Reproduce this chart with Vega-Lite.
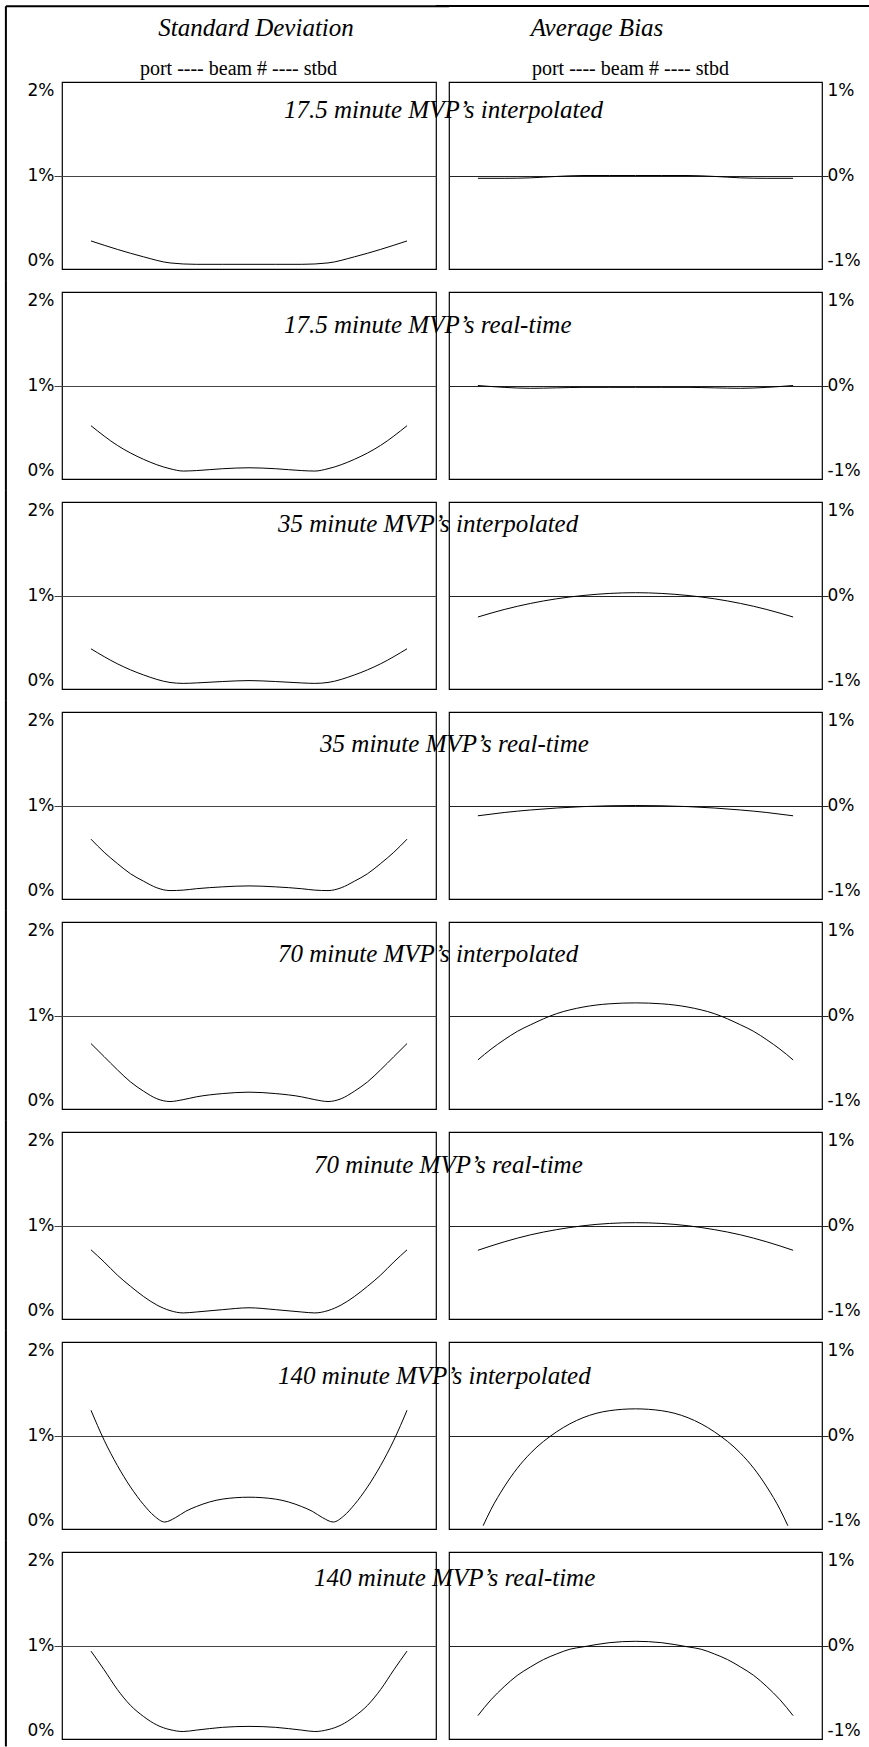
{
"$schema": "https://vega.github.io/schema/vega-lite/v6.json",
"background": "white",
"padding": {"left": 4, "top": 4, "right": 0, "bottom": 0},
"config": {
 "view": {"stroke": "black", "strokeWidth": 1.2},
 "axis": {"labelFont": "DejaVu Sans", "labelFontSize": 17, "labelColor": "black"},
 "line": {"color": "black", "strokeWidth": 1, "interpolate": "monotone"},
 "rule": {"color": "black", "strokeWidth": 2},
 "text": {"font": "Liberation Serif", "fontStyle": "italic", "fontSize": 25, "align": "left", "baseline": "alphabetic", "color": "black"}
},
"datasets": {
 "one": [{}],
 "sd1": [{"b":-60,"v":0.30},{"b":-50,"v":0.21},{"b":-40,"v":0.13},{"b":-30,"v":0.065},{"b":-20,"v":0.05},{"b":-10,"v":0.05},{"b":0,"v":0.05},{"b":10,"v":0.05},{"b":20,"v":0.05},{"b":30,"v":0.065},{"b":40,"v":0.13},{"b":50,"v":0.21},{"b":60,"v":0.30}],
 "bias1": [{"b":-60,"v":-0.03},{"b":-50,"v":-0.03},{"b":-40,"v":-0.025},{"b":-30,"v":-0.01},{"b":-20,"v":0},{"b":-10,"v":0},{"b":0,"v":0},{"b":10,"v":0},{"b":20,"v":0},{"b":30,"v":-0.01},{"b":40,"v":-0.025},{"b":50,"v":-0.03},{"b":60,"v":-0.03}],
 "sd2": [{"b":-60,"v":0.57},{"b":-50,"v":0.36},{"b":-40,"v":0.21},{"b":-30,"v":0.11},{"b":-25,"v":0.085},{"b":-20,"v":0.09},{"b":-10,"v":0.11},{"b":0,"v":0.12},{"b":10,"v":0.11},{"b":20,"v":0.09},{"b":25,"v":0.085},{"b":30,"v":0.11},{"b":40,"v":0.21},{"b":50,"v":0.36},{"b":60,"v":0.57}],
 "bias2": [{"b":-60,"v":0},{"b":-50,"v":-0.02},{"b":-40,"v":-0.03},{"b":-30,"v":-0.025},{"b":-20,"v":-0.02},{"b":-10,"v":-0.02},{"b":0,"v":-0.02},{"b":10,"v":-0.02},{"b":20,"v":-0.02},{"b":30,"v":-0.025},{"b":40,"v":-0.03},{"b":50,"v":-0.02},{"b":60,"v":0}],
 "sd3": [{"b":-60,"v":0.43},{"b":-50,"v":0.27},{"b":-40,"v":0.15},{"b":-30,"v":0.07},{"b":-25,"v":0.06},{"b":-20,"v":0.065},{"b":-10,"v":0.08},{"b":0,"v":0.09},{"b":10,"v":0.08},{"b":20,"v":0.065},{"b":25,"v":0.06},{"b":30,"v":0.07},{"b":40,"v":0.15},{"b":50,"v":0.27},{"b":60,"v":0.43}],
 "bias3": [{"b":-60,"v":-0.23},{"b":-50,"v":-0.15},{"b":-40,"v":-0.085},{"b":-30,"v":-0.035},{"b":-20,"v":0},{"b":-10,"v":0.022},{"b":0,"v":0.03},{"b":10,"v":0.022},{"b":20,"v":0},{"b":30,"v":-0.035},{"b":40,"v":-0.085},{"b":50,"v":-0.15},{"b":60,"v":-0.23}],
 "sd4": [{"b":-60,"v":0.64},{"b":-55,"v":0.50},{"b":-50,"v":0.38},{"b":-45,"v":0.27},{"b":-40,"v":0.19},{"b":-35,"v":0.12},{"b":-30,"v":0.09},{"b":-25,"v":0.095},{"b":-20,"v":0.11},{"b":-10,"v":0.13},{"b":0,"v":0.14},{"b":10,"v":0.13},{"b":20,"v":0.11},{"b":25,"v":0.095},{"b":30,"v":0.09},{"b":35,"v":0.12},{"b":40,"v":0.19},{"b":45,"v":0.27},{"b":50,"v":0.38},{"b":55,"v":0.50},{"b":60,"v":0.64}],
 "bias4": [{"b":-60,"v":-0.11},{"b":-50,"v":-0.075},{"b":-40,"v":-0.048},{"b":-30,"v":-0.027},{"b":-20,"v":-0.012},{"b":-10,"v":-0.003},{"b":0,"v":0},{"b":10,"v":-0.003},{"b":20,"v":-0.012},{"b":30,"v":-0.027},{"b":40,"v":-0.048},{"b":50,"v":-0.075},{"b":60,"v":-0.11}],
 "sd5": [{"b":-60,"v":0.70},{"b":-55,"v":0.56},{"b":-50,"v":0.42},{"b":-45,"v":0.29},{"b":-40,"v":0.19},{"b":-35,"v":0.11},{"b":-30,"v":0.08},{"b":-25,"v":0.10},{"b":-20,"v":0.13},{"b":-10,"v":0.165},{"b":0,"v":0.18},{"b":10,"v":0.165},{"b":20,"v":0.13},{"b":25,"v":0.10},{"b":30,"v":0.08},{"b":35,"v":0.11},{"b":40,"v":0.19},{"b":45,"v":0.29},{"b":50,"v":0.42},{"b":55,"v":0.56},{"b":60,"v":0.70}],
 "bias5": [{"b":-60,"v":-0.475},{"b":-55,"v":-0.36},{"b":-50,"v":-0.26},{"b":-45,"v":-0.17},{"b":-40,"v":-0.10},{"b":-30,"v":0.02},{"b":-20,"v":0.09},{"b":-10,"v":0.125},{"b":0,"v":0.135},{"b":10,"v":0.125},{"b":20,"v":0.09},{"b":30,"v":0.02},{"b":40,"v":-0.10},{"b":45,"v":-0.17},{"b":50,"v":-0.26},{"b":55,"v":-0.36},{"b":60,"v":-0.475}],
 "sd6": [{"b":-60,"v":0.74},{"b":-55,"v":0.61},{"b":-50,"v":0.47},{"b":-45,"v":0.35},{"b":-40,"v":0.24},{"b":-35,"v":0.15},{"b":-30,"v":0.09},{"b":-25,"v":0.065},{"b":-20,"v":0.075},{"b":-10,"v":0.10},{"b":0,"v":0.12},{"b":10,"v":0.10},{"b":20,"v":0.075},{"b":25,"v":0.065},{"b":30,"v":0.09},{"b":35,"v":0.15},{"b":40,"v":0.24},{"b":45,"v":0.35},{"b":50,"v":0.47},{"b":55,"v":0.61},{"b":60,"v":0.74}],
 "bias6": [{"b":-60,"v":-0.265},{"b":-50,"v":-0.175},{"b":-40,"v":-0.10},{"b":-30,"v":-0.044},{"b":-20,"v":-0.003},{"b":-10,"v":0.022},{"b":0,"v":0.03},{"b":10,"v":0.022},{"b":20,"v":-0.003},{"b":30,"v":-0.044},{"b":40,"v":-0.10},{"b":50,"v":-0.175},{"b":60,"v":-0.265}],
 "sd7": [{"b":-60,"v":1.27},{"b":-55,"v":0.95},{"b":-50,"v":0.68},{"b":-45,"v":0.45},{"b":-40,"v":0.26},{"b":-36,"v":0.14},{"b":-32,"v":0.075},{"b":-28,"v":0.12},{"b":-24,"v":0.19},{"b":-20,"v":0.24},{"b":-10,"v":0.32},{"b":0,"v":0.34},{"b":10,"v":0.32},{"b":20,"v":0.24},{"b":24,"v":0.19},{"b":28,"v":0.12},{"b":32,"v":0.075},{"b":36,"v":0.14},{"b":40,"v":0.26},{"b":45,"v":0.45},{"b":50,"v":0.68},{"b":55,"v":0.95},{"b":60,"v":1.27}],
 "bias7": [{"b":-58,"v":-0.965},{"b":-55,"v":-0.79},{"b":-50,"v":-0.55},{"b":-45,"v":-0.35},{"b":-40,"v":-0.19},{"b":-30,"v":0.04},{"b":-20,"v":0.19},{"b":-10,"v":0.265},{"b":0,"v":0.285},{"b":10,"v":0.265},{"b":20,"v":0.19},{"b":30,"v":0.04},{"b":40,"v":-0.19},{"b":45,"v":-0.35},{"b":50,"v":-0.55},{"b":55,"v":-0.79},{"b":58,"v":-0.965}],
 "sd8": [{"b":-60,"v":0.94},{"b":-55,"v":0.74},{"b":-50,"v":0.53},{"b":-45,"v":0.36},{"b":-40,"v":0.24},{"b":-35,"v":0.15},{"b":-30,"v":0.10},{"b":-25,"v":0.08},{"b":-20,"v":0.095},{"b":-10,"v":0.125},{"b":0,"v":0.135},{"b":10,"v":0.125},{"b":20,"v":0.095},{"b":25,"v":0.08},{"b":30,"v":0.10},{"b":35,"v":0.15},{"b":40,"v":0.24},{"b":45,"v":0.36},{"b":50,"v":0.53},{"b":55,"v":0.74},{"b":60,"v":0.94}],
 "bias8": [{"b":-60,"v":-0.75},{"b":-55,"v":-0.58},{"b":-50,"v":-0.44},{"b":-45,"v":-0.32},{"b":-40,"v":-0.23},{"b":-35,"v":-0.15},{"b":-30,"v":-0.09},{"b":-25,"v":-0.04},{"b":-20,"v":-0.015},{"b":-10,"v":0.03},{"b":0,"v":0.045},{"b":10,"v":0.03},{"b":20,"v":-0.015},{"b":25,"v":-0.04},{"b":30,"v":-0.09},{"b":35,"v":-0.15},{"b":40,"v":-0.23},{"b":45,"v":-0.32},{"b":50,"v":-0.44},{"b":55,"v":-0.58},{"b":60,"v":-0.75}]
},
"columns": 2,
"spacing": {"row": 23, "column": 13},
"bounds": "flush",
"concat": [
  {"width": 374, "height": 187,
   "resolve": {"axis": {"x": "independent", "y": "independent"}},
   "layer": [
    {"data": {"name": "sd1"}, "mark": "line",
     "encoding": {"x": {"field": "b", "type": "quantitative", "scale": {"domain": [-71, 71], "nice": false}, "axis": {"orient": "top", "title": "port ---- beam # ---- stbd", "labels": false, "ticks": false, "domain": false, "grid": false, "titleFont": "Liberation Serif", "titleFontSize": 20, "titleFontWeight": "normal", "titleColor": "black", "titleBaseline": "alphabetic", "titleX": 176, "titleY": -8}},
      "y": {"field": "v", "type": "quantitative", "scale": {"domain": [0, 2], "nice": false}, "axis": {"values": [0, 1, 2], "title": null, "labelExpr": "datum.value + '%'", "labelFlush": true, "labelPadding": 0, "tickSize": 8, "domain": false, "tickColor": {"condition": {"test": "datum.value === 1", "value": "#444"}, "value": "transparent"}, "grid": true, "gridColor": {"condition": {"test": "datum.value === 1", "value": "#444"}, "value": "transparent"}}}}},
    {"data": {"values": [{"t": "17.5 minute MVP’s interpolated"}]}, "mark": "text",
     "encoding": {"x": {"datum": 13.3, "type": "quantitative", "scale": {"domain": [-71, 71], "nice": false}, "axis": null}, "y": {"datum": 1.615, "type": "quantitative", "scale": {"domain": [0, 2], "nice": false}, "axis": null}, "text": {"field": "t"}}},
    {"data": {"values": [{"t": "Standard Deviation"}]}, "mark": {"type": "text", "align": "center"},
     "encoding": {"x": {"datum": 2.66, "type": "quantitative", "scale": {"domain": [-71, 71], "nice": false}, "axis": null}, "y": {"datum": 2.492, "type": "quantitative", "scale": {"domain": [0, 2], "nice": false}, "axis": null}, "text": {"field": "t"}}},
    {"data": {"name": "one"}, "mark": "rule",
     "encoding": {"x": {"datum": -92.3, "type": "quantitative", "scale": {"domain": [-71, 71], "nice": false}, "axis": null}, "y": {"datum": -0.125, "type": "quantitative", "scale": {"domain": [0, 2], "nice": false}, "axis": null}, "y2": {"datum": 2.81}}},
    {"data": {"name": "one"}, "mark": "rule",
     "encoding": {"x": {"datum": -92.3, "type": "quantitative", "scale": {"domain": [-71, 71], "nice": false}, "axis": null}, "x2": {"datum": 76}, "y": {"datum": 2.81, "type": "quantitative", "scale": {"domain": [0, 2], "nice": false}, "axis": null}}}
   ]},
  {"width": 373, "height": 187,
   "resolve": {"axis": {"x": "independent", "y": "independent"}},
   "layer": [
    {"data": {"name": "bias1"}, "mark": "line",
     "encoding": {"x": {"field": "b", "type": "quantitative", "scale": {"domain": [-71, 71], "nice": false}, "axis": {"orient": "top", "title": "port ---- beam # ---- stbd", "labels": false, "ticks": false, "domain": false, "grid": false, "titleFont": "Liberation Serif", "titleFontSize": 20, "titleFontWeight": "normal", "titleColor": "black", "titleBaseline": "alphabetic", "titleX": 181, "titleY": -8}},
      "y": {"field": "v", "type": "quantitative", "scale": {"domain": [-1, 1], "nice": false}, "axis": {"orient": "right", "values": [-1, 0, 1], "title": null, "labelExpr": "datum.value + '%'", "labelFlush": true, "labelPadding": -1, "tickSize": 6, "domain": false, "tickColor": {"condition": {"test": "datum.value === 0", "value": "#222"}, "value": "transparent"}, "grid": true, "gridColor": {"condition": {"test": "datum.value === 0", "value": "#222"}, "value": "transparent"}}}}},
    {"data": {"values": [{"t": "Average Bias"}]}, "mark": {"type": "text", "align": "center"},
     "encoding": {"x": {"datum": -14.66, "type": "quantitative", "scale": {"domain": [-71, 71], "nice": false}, "axis": null}, "y": {"datum": 1.492, "type": "quantitative", "scale": {"domain": [-1, 1], "nice": false}, "axis": null}, "text": {"field": "t"}}},
    {"data": {"name": "one"}, "mark": "rule",
     "encoding": {"x": {"datum": -76, "type": "quantitative", "scale": {"domain": [-71, 71], "nice": false}, "axis": null}, "x2": {"datum": 89}, "y": {"datum": 1.813, "type": "quantitative", "scale": {"domain": [-1, 1], "nice": false}, "axis": null}}}
   ]},
  {"width": 374, "height": 187,
   "resolve": {"axis": {"x": "independent", "y": "independent"}},
   "layer": [
    {"data": {"name": "sd2"}, "mark": "line",
     "encoding": {"x": {"field": "b", "type": "quantitative", "scale": {"domain": [-71, 71], "nice": false}, "axis": null},
      "y": {"field": "v", "type": "quantitative", "scale": {"domain": [0, 2], "nice": false}, "axis": {"values": [0, 1, 2], "title": null, "labelExpr": "datum.value + '%'", "labelFlush": true, "labelPadding": 0, "tickSize": 8, "domain": false, "tickColor": {"condition": {"test": "datum.value === 1", "value": "#444"}, "value": "transparent"}, "grid": true, "gridColor": {"condition": {"test": "datum.value === 1", "value": "#444"}, "value": "transparent"}}}}},
    {"data": {"values": [{"t": "17.5 minute MVP’s real-time"}]}, "mark": "text",
     "encoding": {"x": {"datum": 13.3, "type": "quantitative", "scale": {"domain": [-71, 71], "nice": false}, "axis": null}, "y": {"datum": 1.56, "type": "quantitative", "scale": {"domain": [0, 2], "nice": false}, "axis": null}, "text": {"field": "t"}}},
    {"data": {"name": "one"}, "mark": "rule",
     "encoding": {"x": {"datum": -92.3, "type": "quantitative", "scale": {"domain": [-71, 71], "nice": false}, "axis": null}, "y": {"datum": -0.125, "type": "quantitative", "scale": {"domain": [0, 2], "nice": false}, "axis": null}, "y2": {"datum": 2.125}}}
   ]},
  {"width": 373, "height": 187,
   "data": {"name": "bias2"}, "mark": "line",
   "encoding": {"x": {"field": "b", "type": "quantitative", "scale": {"domain": [-71, 71], "nice": false}, "axis": null},
    "y": {"field": "v", "type": "quantitative", "scale": {"domain": [-1, 1], "nice": false}, "axis": {"orient": "right", "values": [-1, 0, 1], "title": null, "labelExpr": "datum.value + '%'", "labelFlush": true, "labelPadding": -1, "tickSize": 6, "domain": false, "tickColor": {"condition": {"test": "datum.value === 0", "value": "#222"}, "value": "transparent"}, "grid": true, "gridColor": {"condition": {"test": "datum.value === 0", "value": "#222"}, "value": "transparent"}}}}},
  {"width": 374, "height": 187,
   "resolve": {"axis": {"x": "independent", "y": "independent"}},
   "layer": [
    {"data": {"name": "sd3"}, "mark": "line",
     "encoding": {"x": {"field": "b", "type": "quantitative", "scale": {"domain": [-71, 71], "nice": false}, "axis": null},
      "y": {"field": "v", "type": "quantitative", "scale": {"domain": [0, 2], "nice": false}, "axis": {"values": [0, 1, 2], "title": null, "labelExpr": "datum.value + '%'", "labelFlush": true, "labelPadding": 0, "tickSize": 8, "domain": false, "tickColor": {"condition": {"test": "datum.value === 1", "value": "#444"}, "value": "transparent"}, "grid": true, "gridColor": {"condition": {"test": "datum.value === 1", "value": "#444"}, "value": "transparent"}}}}},
    {"data": {"values": [{"t": "35 minute MVP’s interpolated"}]}, "mark": "text",
     "encoding": {"x": {"datum": 11.0, "type": "quantitative", "scale": {"domain": [-71, 71], "nice": false}, "axis": null}, "y": {"datum": 1.68, "type": "quantitative", "scale": {"domain": [0, 2], "nice": false}, "axis": null}, "text": {"field": "t"}}},
    {"data": {"name": "one"}, "mark": "rule",
     "encoding": {"x": {"datum": -92.3, "type": "quantitative", "scale": {"domain": [-71, 71], "nice": false}, "axis": null}, "y": {"datum": -0.125, "type": "quantitative", "scale": {"domain": [0, 2], "nice": false}, "axis": null}, "y2": {"datum": 2.125}}}
   ]},
  {"width": 373, "height": 187,
   "data": {"name": "bias3"}, "mark": "line",
   "encoding": {"x": {"field": "b", "type": "quantitative", "scale": {"domain": [-71, 71], "nice": false}, "axis": null},
    "y": {"field": "v", "type": "quantitative", "scale": {"domain": [-1, 1], "nice": false}, "axis": {"orient": "right", "values": [-1, 0, 1], "title": null, "labelExpr": "datum.value + '%'", "labelFlush": true, "labelPadding": -1, "tickSize": 6, "domain": false, "tickColor": {"condition": {"test": "datum.value === 0", "value": "#222"}, "value": "transparent"}, "grid": true, "gridColor": {"condition": {"test": "datum.value === 0", "value": "#222"}, "value": "transparent"}}}}},
  {"width": 374, "height": 187,
   "resolve": {"axis": {"x": "independent", "y": "independent"}},
   "layer": [
    {"data": {"name": "sd4"}, "mark": "line",
     "encoding": {"x": {"field": "b", "type": "quantitative", "scale": {"domain": [-71, 71], "nice": false}, "axis": null},
      "y": {"field": "v", "type": "quantitative", "scale": {"domain": [0, 2], "nice": false}, "axis": {"values": [0, 1, 2], "title": null, "labelExpr": "datum.value + '%'", "labelFlush": true, "labelPadding": 0, "tickSize": 8, "domain": false, "tickColor": {"condition": {"test": "datum.value === 1", "value": "#444"}, "value": "transparent"}, "grid": true, "gridColor": {"condition": {"test": "datum.value === 1", "value": "#444"}, "value": "transparent"}}}}},
    {"data": {"values": [{"t": "35 minute MVP’s real-time"}]}, "mark": "text",
     "encoding": {"x": {"datum": 27.0, "type": "quantitative", "scale": {"domain": [-71, 71], "nice": false}, "axis": null}, "y": {"datum": 1.57, "type": "quantitative", "scale": {"domain": [0, 2], "nice": false}, "axis": null}, "text": {"field": "t"}}},
    {"data": {"name": "one"}, "mark": "rule",
     "encoding": {"x": {"datum": -92.3, "type": "quantitative", "scale": {"domain": [-71, 71], "nice": false}, "axis": null}, "y": {"datum": -0.125, "type": "quantitative", "scale": {"domain": [0, 2], "nice": false}, "axis": null}, "y2": {"datum": 2.125}}}
   ]},
  {"width": 373, "height": 187,
   "data": {"name": "bias4"}, "mark": "line",
   "encoding": {"x": {"field": "b", "type": "quantitative", "scale": {"domain": [-71, 71], "nice": false}, "axis": null},
    "y": {"field": "v", "type": "quantitative", "scale": {"domain": [-1, 1], "nice": false}, "axis": {"orient": "right", "values": [-1, 0, 1], "title": null, "labelExpr": "datum.value + '%'", "labelFlush": true, "labelPadding": -1, "tickSize": 6, "domain": false, "tickColor": {"condition": {"test": "datum.value === 0", "value": "#222"}, "value": "transparent"}, "grid": true, "gridColor": {"condition": {"test": "datum.value === 0", "value": "#222"}, "value": "transparent"}}}}},
  {"width": 374, "height": 187,
   "resolve": {"axis": {"x": "independent", "y": "independent"}},
   "layer": [
    {"data": {"name": "sd5"}, "mark": "line",
     "encoding": {"x": {"field": "b", "type": "quantitative", "scale": {"domain": [-71, 71], "nice": false}, "axis": null},
      "y": {"field": "v", "type": "quantitative", "scale": {"domain": [0, 2], "nice": false}, "axis": {"values": [0, 1, 2], "title": null, "labelExpr": "datum.value + '%'", "labelFlush": true, "labelPadding": 0, "tickSize": 8, "domain": false, "tickColor": {"condition": {"test": "datum.value === 1", "value": "#444"}, "value": "transparent"}, "grid": true, "gridColor": {"condition": {"test": "datum.value === 1", "value": "#444"}, "value": "transparent"}}}}},
    {"data": {"values": [{"t": "70 minute MVP’s interpolated"}]}, "mark": "text",
     "encoding": {"x": {"datum": 11.0, "type": "quantitative", "scale": {"domain": [-71, 71], "nice": false}, "axis": null}, "y": {"datum": 1.57, "type": "quantitative", "scale": {"domain": [0, 2], "nice": false}, "axis": null}, "text": {"field": "t"}}},
    {"data": {"name": "one"}, "mark": "rule",
     "encoding": {"x": {"datum": -92.3, "type": "quantitative", "scale": {"domain": [-71, 71], "nice": false}, "axis": null}, "y": {"datum": -0.125, "type": "quantitative", "scale": {"domain": [0, 2], "nice": false}, "axis": null}, "y2": {"datum": 2.125}}}
   ]},
  {"width": 373, "height": 187,
   "data": {"name": "bias5"}, "mark": "line",
   "encoding": {"x": {"field": "b", "type": "quantitative", "scale": {"domain": [-71, 71], "nice": false}, "axis": null},
    "y": {"field": "v", "type": "quantitative", "scale": {"domain": [-1, 1], "nice": false}, "axis": {"orient": "right", "values": [-1, 0, 1], "title": null, "labelExpr": "datum.value + '%'", "labelFlush": true, "labelPadding": -1, "tickSize": 6, "domain": false, "tickColor": {"condition": {"test": "datum.value === 0", "value": "#222"}, "value": "transparent"}, "grid": true, "gridColor": {"condition": {"test": "datum.value === 0", "value": "#222"}, "value": "transparent"}}}}},
  {"width": 374, "height": 187,
   "resolve": {"axis": {"x": "independent", "y": "independent"}},
   "layer": [
    {"data": {"name": "sd6"}, "mark": "line",
     "encoding": {"x": {"field": "b", "type": "quantitative", "scale": {"domain": [-71, 71], "nice": false}, "axis": null},
      "y": {"field": "v", "type": "quantitative", "scale": {"domain": [0, 2], "nice": false}, "axis": {"values": [0, 1, 2], "title": null, "labelExpr": "datum.value + '%'", "labelFlush": true, "labelPadding": 0, "tickSize": 8, "domain": false, "tickColor": {"condition": {"test": "datum.value === 1", "value": "#444"}, "value": "transparent"}, "grid": true, "gridColor": {"condition": {"test": "datum.value === 1", "value": "#444"}, "value": "transparent"}}}}},
    {"data": {"values": [{"t": "70 minute MVP’s real-time"}]}, "mark": "text",
     "encoding": {"x": {"datum": 24.7, "type": "quantitative", "scale": {"domain": [-71, 71], "nice": false}, "axis": null}, "y": {"datum": 1.56, "type": "quantitative", "scale": {"domain": [0, 2], "nice": false}, "axis": null}, "text": {"field": "t"}}},
    {"data": {"name": "one"}, "mark": "rule",
     "encoding": {"x": {"datum": -92.3, "type": "quantitative", "scale": {"domain": [-71, 71], "nice": false}, "axis": null}, "y": {"datum": -0.125, "type": "quantitative", "scale": {"domain": [0, 2], "nice": false}, "axis": null}, "y2": {"datum": 2.125}}}
   ]},
  {"width": 373, "height": 187,
   "data": {"name": "bias6"}, "mark": "line",
   "encoding": {"x": {"field": "b", "type": "quantitative", "scale": {"domain": [-71, 71], "nice": false}, "axis": null},
    "y": {"field": "v", "type": "quantitative", "scale": {"domain": [-1, 1], "nice": false}, "axis": {"orient": "right", "values": [-1, 0, 1], "title": null, "labelExpr": "datum.value + '%'", "labelFlush": true, "labelPadding": -1, "tickSize": 6, "domain": false, "tickColor": {"condition": {"test": "datum.value === 0", "value": "#222"}, "value": "transparent"}, "grid": true, "gridColor": {"condition": {"test": "datum.value === 0", "value": "#222"}, "value": "transparent"}}}}},
  {"width": 374, "height": 187,
   "resolve": {"axis": {"x": "independent", "y": "independent"}},
   "layer": [
    {"data": {"name": "sd7"}, "mark": "line",
     "encoding": {"x": {"field": "b", "type": "quantitative", "scale": {"domain": [-71, 71], "nice": false}, "axis": null},
      "y": {"field": "v", "type": "quantitative", "scale": {"domain": [0, 2], "nice": false}, "axis": {"values": [0, 1, 2], "title": null, "labelExpr": "datum.value + '%'", "labelFlush": true, "labelPadding": 0, "tickSize": 8, "domain": false, "tickColor": {"condition": {"test": "datum.value === 1", "value": "#444"}, "value": "transparent"}, "grid": true, "gridColor": {"condition": {"test": "datum.value === 1", "value": "#444"}, "value": "transparent"}}}}},
    {"data": {"values": [{"t": "140 minute MVP’s interpolated"}]}, "mark": "text",
     "encoding": {"x": {"datum": 11.0, "type": "quantitative", "scale": {"domain": [-71, 71], "nice": false}, "axis": null}, "y": {"datum": 1.55, "type": "quantitative", "scale": {"domain": [0, 2], "nice": false}, "axis": null}, "text": {"field": "t"}}},
    {"data": {"name": "one"}, "mark": "rule",
     "encoding": {"x": {"datum": -92.3, "type": "quantitative", "scale": {"domain": [-71, 71], "nice": false}, "axis": null}, "y": {"datum": -0.125, "type": "quantitative", "scale": {"domain": [0, 2], "nice": false}, "axis": null}, "y2": {"datum": 2.125}}}
   ]},
  {"width": 373, "height": 187,
   "data": {"name": "bias7"}, "mark": "line",
   "encoding": {"x": {"field": "b", "type": "quantitative", "scale": {"domain": [-71, 71], "nice": false}, "axis": null},
    "y": {"field": "v", "type": "quantitative", "scale": {"domain": [-1, 1], "nice": false}, "axis": {"orient": "right", "values": [-1, 0, 1], "title": null, "labelExpr": "datum.value + '%'", "labelFlush": true, "labelPadding": -1, "tickSize": 6, "domain": false, "tickColor": {"condition": {"test": "datum.value === 0", "value": "#222"}, "value": "transparent"}, "grid": true, "gridColor": {"condition": {"test": "datum.value === 0", "value": "#222"}, "value": "transparent"}}}}},
  {"width": 374, "height": 187,
   "resolve": {"axis": {"x": "independent", "y": "independent"}},
   "layer": [
    {"data": {"name": "sd8"}, "mark": "line",
     "encoding": {"x": {"field": "b", "type": "quantitative", "scale": {"domain": [-71, 71], "nice": false}, "axis": null},
      "y": {"field": "v", "type": "quantitative", "scale": {"domain": [0, 2], "nice": false}, "axis": {"values": [0, 1, 2], "title": null, "labelExpr": "datum.value + '%'", "labelFlush": true, "labelPadding": 0, "tickSize": 8, "domain": false, "tickColor": {"condition": {"test": "datum.value === 1", "value": "#444"}, "value": "transparent"}, "grid": true, "gridColor": {"condition": {"test": "datum.value === 1", "value": "#444"}, "value": "transparent"}}}}},
    {"data": {"values": [{"t": "140 minute MVP’s real-time"}]}, "mark": "text",
     "encoding": {"x": {"datum": 24.7, "type": "quantitative", "scale": {"domain": [-71, 71], "nice": false}, "axis": null}, "y": {"datum": 1.64, "type": "quantitative", "scale": {"domain": [0, 2], "nice": false}, "axis": null}, "text": {"field": "t"}}},
    {"data": {"name": "one"}, "mark": "rule",
     "encoding": {"x": {"datum": -92.3, "type": "quantitative", "scale": {"domain": [-71, 71], "nice": false}, "axis": null}, "y": {"datum": -0.08, "type": "quantitative", "scale": {"domain": [0, 2], "nice": false}, "axis": null}, "y2": {"datum": 2.125}}}
   ]},
  {"width": 373, "height": 187,
   "data": {"name": "bias8"}, "mark": "line",
   "encoding": {"x": {"field": "b", "type": "quantitative", "scale": {"domain": [-71, 71], "nice": false}, "axis": null},
    "y": {"field": "v", "type": "quantitative", "scale": {"domain": [-1, 1], "nice": false}, "axis": {"orient": "right", "values": [-1, 0, 1], "title": null, "labelExpr": "datum.value + '%'", "labelFlush": true, "labelPadding": -1, "tickSize": 6, "domain": false, "tickColor": {"condition": {"test": "datum.value === 0", "value": "#222"}, "value": "transparent"}, "grid": true, "gridColor": {"condition": {"test": "datum.value === 0", "value": "#222"}, "value": "transparent"}}}}}
]
}
